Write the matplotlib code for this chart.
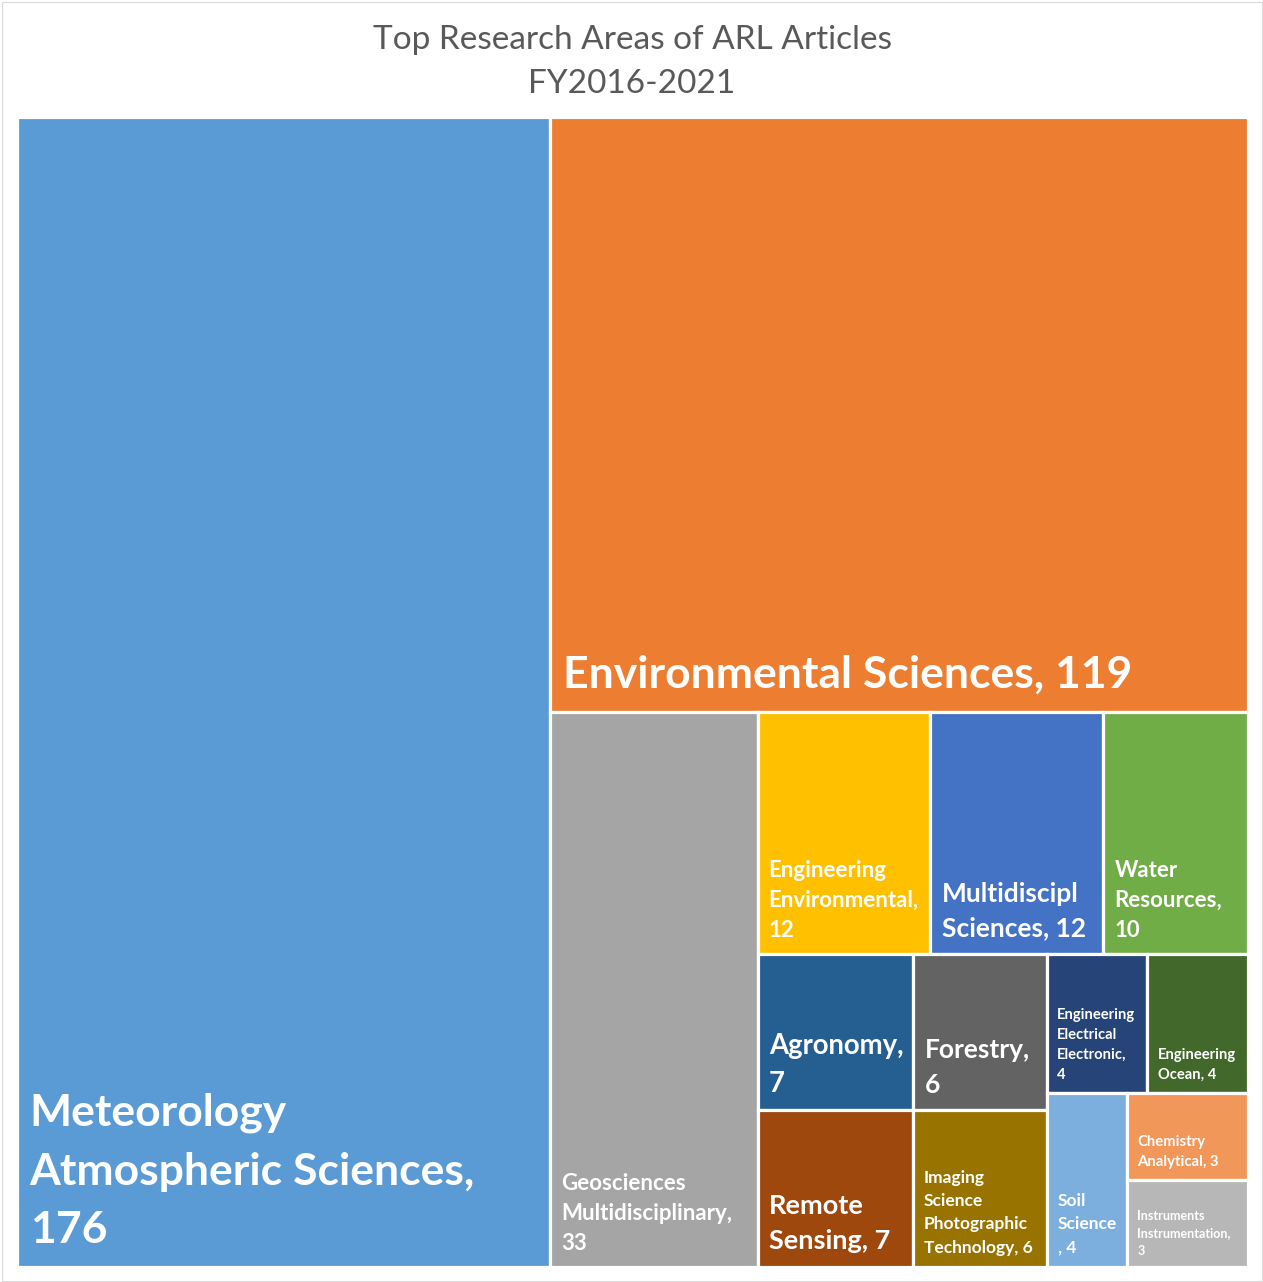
import matplotlib
matplotlib.use("Agg")
import matplotlib.pyplot as plt
from matplotlib.patches import Rectangle

# Research areas (display names with line breaks) and article counts
areas = [
    "Meteorology\nAtmospheric Sciences",
    "Environmental Sciences",
    "Geosciences\nMultidisciplinary",
    "Engineering\nEnvironmental",
    "Multidiscipl\nSciences",
    "Water\nResources",
    "Agronomy",
    "Remote\nSensing",
    "Forestry",
    "Imaging\nScience\nPhotographic\nTechnology",
    "Engineering\nElectrical\nElectronic",
    "Engineering\nOcean",
    "Soil\nScience",
    "Chemistry\nAnalytical",
    "Instruments\nInstrumentation",
]
articles = [176, 119, 33, 12, 12, 10, 7, 7, 6, 6, 4, 4, 4, 3, 3]

# separator between name and count in each label
separators = [",\n", ", ", ",\n", ",\n", ", ", ",\n", ",\n", ", ", ",\n",
              ", ", ",\n", ", ", "\n, ", ", ", ",\n"]

colors = ["#5B9BD5", "#ED7D31", "#A5A5A5", "#FFC000", "#4472C4", "#70AD47",
          "#255E91", "#9E480E", "#636363", "#997300", "#264478", "#43682B",
          "#7CAFDD", "#F1975A", "#B7B7B7"]
font_sizes = [32, 32, 16, 16, 19, 16, 19.8, 19.5, 19, 12.5, 10.6, 10.6, 12.5,
              10.7, 9]

# number of items placed in each successive strip of the treemap
strip_sizes = [1, 1, 1, 3, 2, 2, 2, 1, 2]

FIG_W, FIG_H, DPI = 1263, 1282, 100
AREA = (16.8, 116.8, 1247.5, 1266.8)  # left, top, right, bottom in pixels


def split_strip(chunk, x, y, w, h):
    """Divide one strip among its items, cutting across its longer side."""
    s = float(sum(chunk))
    out = []
    for v in chunk:
        if w >= h:
            cw = w * v / s
            out.append((x, y, cw, h))
            x += cw
        else:
            ch = h * v / s
            out.append((x, y, w, ch))
            y += ch
    return out


def strip_treemap(values, groups, x, y, w, h):
    """Lay values out in strips; each strip runs along the shorter side."""
    rects = []
    remaining = float(sum(values))
    i = 0
    for n in groups:
        chunk = values[i:i + n]
        s = float(sum(chunk))
        if w >= h:
            cw = w * s / remaining
            rects += split_strip(chunk, x, y, cw, h)
            x += cw
            w -= cw
        else:
            rh = h * s / remaining
            rects += split_strip(chunk, x, y, w, rh)
            y += rh
            h -= rh
        remaining -= s
        i += n
    return rects


plt.rcParams["font.family"] = ["Lato", "DejaVu Sans"]

fig = plt.figure(figsize=(FIG_W / DPI, FIG_H / DPI), dpi=DPI)
left, top, right, bottom = AREA
W, H = right - left, bottom - top
ax = fig.add_axes([left / FIG_W, 1 - bottom / FIG_H, W / FIG_W, H / FIG_H])
ax.set_xlim(0, W)
ax.set_ylim(H, 0)
ax.axis("off")

rects = strip_treemap(articles, strip_sizes, 0, 0, W, H)
for (x, y, w, h), name, sep, n, c, fs in zip(rects, areas, separators,
                                             articles, colors, font_sizes):
    ax.add_patch(Rectangle((x, y), w, h, facecolor=c, edgecolor="white",
                           linewidth=2.3))
    ax.annotate(f"{name}{sep}{n}", xy=(x, y + h),
                xytext=(9 + 0.12 * fs, 7.5 + 0.3 * fs),
                textcoords="offset pixels", ha="left", va="bottom",
                color="white", fontsize=fs, fontweight="bold",
                linespacing=1.55)

fig.text(0.5004, 1 - 62 / FIG_H, "Top Research Areas of ARL Articles\nFY2016-2021",
         ha="center", va="center", fontsize=24, color="#595959",
         linespacing=1.6)

# thin chart border
fig.patches.append(Rectangle((1.5 / FIG_W, 1.5 / FIG_H), 1 - 3 / FIG_W,
                             1 - 3 / FIG_H, transform=fig.transFigure,
                             fill=False, edgecolor="#D9D9D9", linewidth=0.8))

fig.savefig("out.png", dpi=DPI, facecolor="white")
